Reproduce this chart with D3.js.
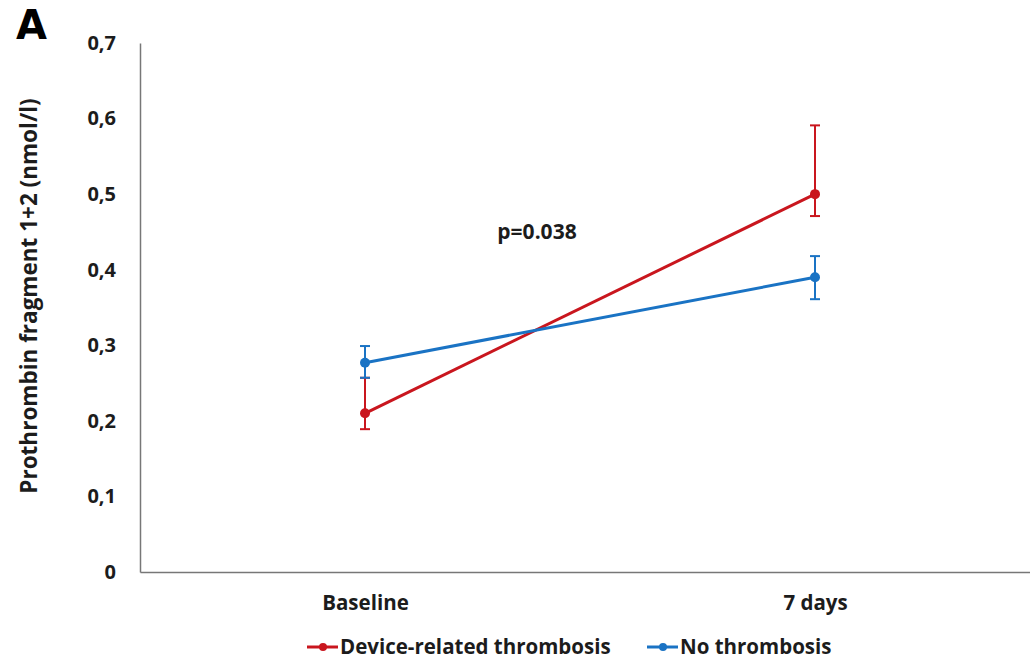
<!DOCTYPE html>
<html lang="en">
<head>
    <meta charset="UTF-8">
    <title>Prothrombin fragment 1+2</title>
    <script src="https://d3js.org/d3.v7.min.js"></script>
    <style>
        body { margin: 0; background: #fff; }
        text { font-family: "Open Sans", sans-serif; font-weight: bold; fill: #1c1c1c; }
    </style>
</head>
<body>
    <script>
        // Data
        const categories = ['Baseline', '7 days'];
        const seriesNames = ['Device-related thrombosis', 'No thrombosis'];
        const seriesColors = ['#c9161e', '#1a73c4'];
        const meanValues = [[0.21, 0.50], [0.277, 0.39]];
        const lowerValues = [[0.189, 0.471], [0.257, 0.361]];
        const upperValues = [[0.257, 0.591], [0.299, 0.418]];
        const yTicks = [0, 0.1, 0.2, 0.3, 0.4, 0.5, 0.6, 0.7];
        const pLabel = 'p=0.038';

        const W = 1030, H = 663;
        const svg = d3.select('body').append('svg')
            .attr('width', W)
            .attr('height', H);

        const x = d3.scalePoint()
            .domain(categories)
            .range([140, 1040])
            .padding(0.5);

        const y = d3.scaleLinear()
            .domain([0, 0.7])
            .range([572, 43]);

        // Axes (lines only, no tick marks)
        const yAxis = svg.append('g')
            .attr('transform', 'translate(140,0)')
            .call(d3.axisLeft(y).tickValues(yTicks).tickSize(0).tickPadding(24)
                .tickFormat(d => d3.format('.1f')(d).replace('.', ',').replace('0,0', '0')));
        yAxis.select('.domain').attr('stroke', '#777').attr('stroke-width', 1.5);
        yAxis.selectAll('text').style('font-size', '20px').attr('fill', '#1c1c1c');

        const xAxis = svg.append('g')
            .attr('transform', 'translate(0,572)')
            .call(d3.axisBottom(x).tickSize(0).tickPadding(23));
        xAxis.select('.domain').attr('stroke', '#777').attr('stroke-width', 1.5);
        xAxis.selectAll('text').style('font-size', '20.5px').attr('fill', '#1c1c1c');

        // Y axis title
        svg.append('text')
            .attr('transform', 'translate(37,296) rotate(-90)')
            .attr('text-anchor', 'middle')
            .style('font-size', '22.5px')
            .text('Prothrombin fragment 1+2 (nmol/l)');

        // Panel letter
        svg.append('text')
            .attr('x', 16)
            .attr('y', 39)
            .style('font-family', '"DejaVu Sans", sans-serif')
            .style('font-size', '40px')
            .style('fill', '#000')
            .text('A');

        // p-value
        svg.append('text')
            .attr('x', 537)
            .attr('y', 239)
            .attr('text-anchor', 'middle')
            .style('font-size', '21px')
            .text(pLabel);

        const line = d3.line()
            .x((d, i) => x(categories[i]))
            .y(d => y(d));

        seriesNames.forEach((name, s) => {
            const g = svg.append('g');
            const color = seriesColors[s];

            // error bars
            categories.forEach((c, i) => {
                const cx = x(c);
                g.append('line')
                    .attr('x1', cx).attr('x2', cx)
                    .attr('y1', y(lowerValues[s][i])).attr('y2', y(upperValues[s][i]))
                    .attr('stroke', color).attr('stroke-width', 2);
                [lowerValues[s][i], upperValues[s][i]].forEach(v => {
                    g.append('line')
                        .attr('x1', cx - 5).attr('x2', cx + 5)
                        .attr('y1', y(v)).attr('y2', y(v))
                        .attr('stroke', color).attr('stroke-width', 2);
                });
            });

            g.append('path')
                .datum(meanValues[s])
                .attr('d', line)
                .attr('fill', 'none')
                .attr('stroke', color)
                .attr('stroke-width', 3);

            g.selectAll('circle')
                .data(meanValues[s])
                .enter()
                .append('circle')
                .attr('cx', (d, i) => x(categories[i]))
                .attr('cy', d => y(d))
                .attr('r', 5)
                .attr('fill', color);
        });

        // Legend
        const legendX = [307, 647];
        seriesNames.forEach((name, s) => {
            const lg = svg.append('g').attr('transform', `translate(${legendX[s]},647)`);
            lg.append('line')
                .attr('x1', 0).attr('x2', 31)
                .attr('stroke', seriesColors[s]).attr('stroke-width', 3);
            lg.append('circle')
                .attr('cx', 16).attr('r', 4)
                .attr('fill', seriesColors[s]);
            lg.append('text')
                .attr('x', 33)
                .attr('y', 7)
                .style('font-size', '20.5px')
                .text(name);
        });
    </script>
</body>
</html>
